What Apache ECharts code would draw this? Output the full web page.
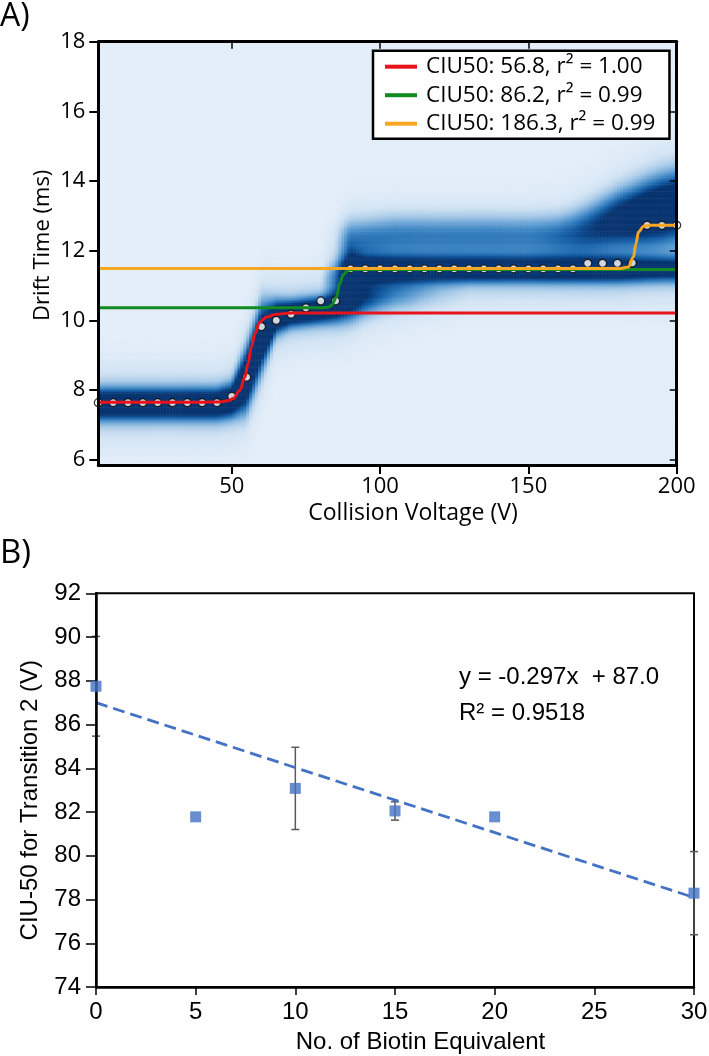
<!DOCTYPE html>
<html><head><meta charset="utf-8">
<script src="https://cdn.jsdelivr.net/npm/echarts@6/dist/echarts.min.js"></script>
<style>html,body{margin:0;padding:0;background:#fff}#chart{width:709px;height:1056px}</style>
</head><body><div id="chart"></div>
<script>
// ================= Panel A data =================
const ciuVoltages = [5,10,15,20,25,30,35,40,45,50,55,60,65,70,75,80,85,90,95,100,105,110,115,120,125,130,135,140,145,150,155,160,165,170,175,180,185,190,195,200];
const centroidDrift = [7.64,7.64,7.64,7.64,7.64,7.64,7.64,7.64,7.64,7.82,8.37,9.82,10.0,10.18,10.36,10.56,10.56,
  11.48,11.48,11.48,11.48,11.48,11.48,11.48,11.48,11.48,11.48,11.48,11.48,11.48,11.48,11.48,11.48,
  11.64,11.64,11.64,11.65,12.73,12.73,12.73];
const redFitV = [5,40,46,49,50.5,52.7,54.4,55.5,56.6,57.8,59.4,61.7,65,70,200];
const redFitT = [7.65,7.65,7.66,7.70,7.76,7.99,8.37,8.76,9.24,9.62,9.95,10.10,10.18,10.21,10.21];
const greenFitV = [5,80,82.5,83.6,85.3,86.4,87.5,89.2,91,200];
const greenFitT = [10.36,10.36,10.38,10.43,10.67,11.06,11.30,11.44,11.46,11.46];
const orangeFitV = [5,181,183.7,185.4,186.3,187.1,188.8,191,200];
const orangeFitT = [11.49,11.49,11.53,11.82,12.21,12.54,12.70,12.73,12.73];
const legendNames = ['CIU50: 56.8, r\u00B2 = 1.00','CIU50: 86.2, r\u00B2 = 0.99','CIU50: 186.3, r\u00B2 = 0.99'];
const driftTicks = [6,8,10,12,14,16,18];
const voltageTicks = [50,100,150,200];
// arrival-time distribution features read per voltage (centre ms, relative intensity, width ms)
const f1Center = [7.6,7.6,7.6,7.6,7.6,7.6,7.6,7.6,7.6,7.7,8.3,9.5,10.1,10.2,10.25,10.3,10.4,10.6,10.7,10.75,10.8,10.8,10.85,10.85,
  10.85,10.85,10.85,10.85,10.85,10.85,10.85,10.85,10.85,10.85,10.85,10.85,10.85,10.85,10.85,10.85];
const f1Amp = [1.3,1.3,1.3,1.3,1.3,1.3,1.3,1.3,1.3,1.3,1.3,1.25,1.25,1.25,1.25,1.25,1.2,1.05,0.7,0.5,0.36,0.27,0.18,0.1,0.05,
  0,0,0,0,0,0,0,0,0,0,0,0,0,0,0];
const f1Sigma = [0.28,0.28,0.28,0.28,0.28,0.28,0.28,0.28,0.28,0.3,0.55,0.6,0.3,0.24,0.24,0.24,0.28,0.36,0.36,0.34,0.34,0.34,0.34,0.34,
  0.34,0.34,0.34,0.34,0.34,0.34,0.34,0.34,0.34,0.34,0.34,0.34,0.34,0.34,0.34,0.34];
const f2Center = [11.2,11.2,11.2,11.2,11.2,11.2,11.2,11.2,11.2,11.2,11.2,11.2,11.2,11.2,11.2,11.2,11.25,
  11.47,11.47,11.47,11.47,11.47,11.47,11.47,11.47,11.47,11.47,11.47,11.47,11.47,11.47,11.47,11.47,11.47,11.47,11.47,11.47,11.47,11.47,11.47];
const f2Amp = [0,0,0,0,0,0,0,0,0,0,0,0,0,0,0,0,0.4,1.2,
  1.25,1.25,1.25,1.25,1.25,1.25,1.25,1.25,1.25,1.25,1.25,1.25,1.25,1.25,1.25,1.25,1.25,1.25,1.15,1.05,1.0,1.0];
const f2Sigma = [0.23,0.23,0.23,0.23,0.23,0.23,0.23,0.23,0.23,0.23,0.23,0.23,0.23,0.23,0.23,0.23,0.35,0.3,
  0.23,0.23,0.23,0.23,0.23,0.23,0.23,0.23,0.23,0.23,0.23,0.23,0.23,0.23,0.23,0.23,0.23,0.23,0.23,0.23,0.23,0.23];
const f3Center = [12.3,12.3,12.3,12.3,12.3,12.3,12.3,12.3,12.3,12.3,12.3,12.3,12.3,12.3,12.3,12.3,12.3,12.3,12.35,12.4,
  12.45,12.45,12.45,12.45,12.45,12.45,12.45,12.45,12.45,12.45,12.45,12.45,12.5,12.6,12.75,12.9,13.0,13.1,13.2,13.3];
const f3Amp = [0,0,0,0,0,0,0,0,0,0,0,0,0,0,0,0,0.07,0.42,0.43,0.43,0.43,0.43,0.43,0.43,0.43,0.43,0.43,0.43,0.43,0.43,
  0.45,0.5,0.57,0.68,0.82,0.98,1.12,1.25,1.32,1.32];
const f3Sigma = [0.4,0.4,0.4,0.4,0.4,0.4,0.4,0.4,0.4,0.4,0.4,0.4,0.4,0.4,0.4,0.4,0.4,0.4,0.4,0.4,
  0.4,0.4,0.4,0.4,0.4,0.4,0.4,0.4,0.4,0.4,0.4,0.4,0.43,0.46,0.48,0.5,0.52,0.55,0.57,0.57];

// ================= Panel B data =================
const biotinEquiv = [0,5,10,15,20,30];
const ciu50T2 = [87.75,81.78,83.08,82.05,81.78,78.29];
const ciu50Err = [2.28,0,1.88,0.42,0,1.9];
const trendX = [0,30];
const trendY = [87.0,78.09];

// ---------- heatmap raster built from the features ----------
function lerpAt(arr, v) {
  let idx = (v - ciuVoltages[0]) / 5;
  if (idx <= 0) return arr[0];
  if (idx >= arr.length - 1) return arr[arr.length - 1];
  const i0 = Math.floor(idx), t = idx - i0;
  return arr[i0] * (1 - t) + arr[i0 + 1] * t;
}
const hmVolt = []; for (let k = 0; k < 195; k++) hmVolt.push(5.5 + k);
const hmDrift = []; for (let k = 0; k < 243; k++) hmDrift.push(+(5.875 + 0.05 * k).toFixed(3));
const hmData = [];
hmVolt.forEach((v, i) => {
  const feats = [
    [lerpAt(f1Center, v), lerpAt(f1Amp, v), lerpAt(f1Sigma, v)],
    [lerpAt(f2Center, v), lerpAt(f2Amp, v), lerpAt(f2Sigma, v)],
    [lerpAt(f3Center, v), lerpAt(f3Amp, v), lerpAt(f3Sigma, v)]
  ];
  hmDrift.forEach((t, j) => {
    let s = 0.03;
    feats.forEach(([c, a, sg]) => {
      const d = (t - c) / sg, dh = (t - c) / (sg + 0.45);
      s += a * Math.exp(-0.5 * d * d) + 0.2 * a * Math.exp(-0.5 * dh * dh);
    });
    hmData.push([i, j, Math.min(1, s)]);
  });
});

const FA = 'Open Sans';
const FB = 'Liberation Sans';
const HM_COLORS = ['#e9f1fa','#d3e4f4','#a8cae8','#72a9d8','#4189c6','#1f69ae','#0c4c91','#083470'];
const chart = echarts.init(document.getElementById('chart'), null, {renderer: 'canvas'});
const gridA0 = {left: 98.3, top: 41.7, right: 32.3, bottom: 591, outerBoundsMode: 'none',
  show: true, borderWidth: 0, backgroundColor: '#e8f0fa'};
const gridA1 = {left: 98.3, top: 41.7, right: 32.3, bottom: 591, outerBoundsMode: 'none'};
const gridB = {left: 96, top: 593.3, right: 15, bottom: 69, outerBoundsMode: 'none',
  show: true, borderColor: '#000', borderWidth: 2, backgroundColor: 'transparent'};

const axLine = w => ({show: true, onZero: false, lineStyle: {color: '#000', width: w}});

const option = {
  animation: false,
  textStyle: {fontFamily: FA, color: '#000'},
  grid: [gridA0, gridA1, gridB],
  visualMap: {
    type: 'continuous', show: false, min: 0, max: 1, dimension: 2, seriesIndex: 0,
    inRange: {color: HM_COLORS}
  },
  legend: {
    orient: 'vertical', left: 373, top: 50.7,
    data: legendNames, selectedMode: false,
    icon: 'rect', itemWidth: 32, itemHeight: 4, itemGap: 4.5,
    padding: [4, 14, 3, 12],
    borderColor: '#000', borderWidth: 2.5, backgroundColor: '#fff',
    textStyle: {fontFamily: FA, fontSize: 22.5, color: '#000', lineHeight: 24, padding: [0, 0, 0, 4]}
  },
  xAxis: [
    {type: 'category', gridIndex: 0, data: hmVolt, show: false},
    {type: 'value', gridIndex: 1, position: 'bottom', min: 5, max: 200, z: 5,
      axisLine: axLine(3),
      axisTick: {show: true, length: 9, lineStyle: {color: '#000', width: 2}, customValues: voltageTicks},
      axisLabel: {customValues: voltageTicks, fontFamily: FA, fontSize: 22, color: '#000', margin: 11},
      splitLine: {show: false},
      name: 'Collision Voltage (V)', nameLocation: 'middle', nameGap: 37, nameMoveOverlap: false,
      nameTextStyle: {fontFamily: FA, fontSize: 23, color: '#000', padding: [0, 0, 0, 51]}},
    {type: 'value', gridIndex: 1, position: 'top', min: 5, max: 200, z: 5,
      axisLine: axLine(3),
      axisTick: {show: true, inside: true, length: 7, lineStyle: {color: '#000', width: 1.5}, customValues: voltageTicks},
      axisLabel: {show: false}, splitLine: {show: false}},
    {type: 'value', gridIndex: 2, position: 'bottom', min: 0, max: 30, interval: 5, z: 5,
      axisLine: axLine(2.5),
      axisTick: {show: true, length: 8, lineStyle: {color: '#000', width: 1.5}},
      axisLabel: {fontFamily: FB, fontSize: 24, color: '#000', margin: 13},
      splitLine: {show: false},
      name: 'No. of Biotin Equivalent', nameLocation: 'middle', nameGap: 43, nameMoveOverlap: false,
      nameTextStyle: {fontFamily: FB, fontSize: 24, color: '#000', padding: [0, 0, 0, 51]}}
  ],
  yAxis: [
    {type: 'category', gridIndex: 0, data: hmDrift, show: false},
    {type: 'value', gridIndex: 1, position: 'left', min: 5.85, max: 18, z: 5,
      axisLine: axLine(3),
      axisTick: {show: true, length: 9, lineStyle: {color: '#000', width: 2}, customValues: driftTicks},
      axisLabel: {customValues: driftTicks, fontFamily: FA, fontSize: 22, color: '#000', margin: 13},
      splitLine: {show: false},
      name: 'Drift Time (ms)', nameLocation: 'middle', nameGap: 45, nameMoveOverlap: false,
      nameTextStyle: {fontFamily: FA, fontSize: 22, color: '#000', padding: [0, 0, 0, 16]}},
    {type: 'value', gridIndex: 1, position: 'right', min: 5.85, max: 18, z: 5,
      axisLine: axLine(3),
      axisTick: {show: true, inside: true, length: 7, lineStyle: {color: '#000', width: 1.5}, customValues: driftTicks},
      axisLabel: {show: false}, splitLine: {show: false}},
    {type: 'value', gridIndex: 2, position: 'left', min: 74, max: 92, interval: 2, z: 5,
      axisLine: axLine(2.5),
      axisTick: {show: true, length: 10, lineStyle: {color: '#000', width: 1.5}},
      axisLabel: {fontFamily: FB, fontSize: 24, color: '#000', margin: 15},
      splitLine: {show: false},
      name: 'CIU-50 for Transition 2 (V)', nameLocation: 'middle', nameGap: 54, nameMoveOverlap: false,
      nameTextStyle: {fontFamily: FB, fontSize: 24, color: '#000', padding: [0, 20, 0, 0]}}
  ],
  graphic: [
    {type: 'text', left: 0, top: 1, style: {text: 'A)', font: '32px "Open Sans"', fill: '#000'}},
    {type: 'text', left: 0, top: 537, style: {text: 'B)', font: '33px "Open Sans"', fill: '#000'}},
    {type: 'text', left: 459, top: 659, style: {text: 'y = -0.297x  + 87.0\nR\u00B2 = 0.9518', font: '24px "Liberation Sans"', lineHeight: 36, fill: '#000'}}
  ],
  series: [
    {type: 'heatmap', xAxisIndex: 0, yAxisIndex: 0, data: hmData, progressive: 0, silent: true, z: 1},
    {type: 'scatter', name: 'centroids', xAxisIndex: 1, yAxisIndex: 1,
      data: ciuVoltages.map((v, i) => [v, centroidDrift[i]]),
      symbol: 'circle', symbolSize: 8, itemStyle: {color: '#fff', borderColor: '#000', borderWidth: 1.2}, z: 3},
    {type: 'line', name: legendNames[0], xAxisIndex: 1, yAxisIndex: 1, color: '#e8141c',
      data: redFitV.map((v, i) => [v, redFitT[i]]), smooth: 0.35, smoothMonotone: 'x', showSymbol: false, symbol: 'none',
      lineStyle: {color: '#e8141c', width: 3}, z: 4},
    {type: 'line', name: legendNames[1], xAxisIndex: 1, yAxisIndex: 1, color: '#128a22',
      data: greenFitV.map((v, i) => [v, greenFitT[i]]), smooth: 0.35, smoothMonotone: 'x', showSymbol: false, symbol: 'none',
      lineStyle: {color: '#128a22', width: 3}, z: 4},
    {type: 'line', name: legendNames[2], xAxisIndex: 1, yAxisIndex: 1, color: '#f5a623',
      data: orangeFitV.map((v, i) => [v, orangeFitT[i]]), smooth: 0.35, smoothMonotone: 'x', showSymbol: false, symbol: 'none',
      lineStyle: {color: '#f5a623', width: 3}, z: 4},
    // Panel B
    {type: 'custom', xAxisIndex: 3, yAxisIndex: 3, z: 3,
      data: biotinEquiv.map((x, i) => [x, ciu50T2[i] - ciu50Err[i], ciu50T2[i] + ciu50Err[i]]).filter((d, i) => ciu50Err[i] > 0),
      renderItem: function (params, api) {
        const x = api.value(0), lo = api.value(1), hi = api.value(2);
        const pLo = api.coord([x, lo]), pHi = api.coord([x, hi]);
        const hw = 4, st = {stroke: '#5a5a5a', lineWidth: 1.5};
        return {type: 'group', children: [
          {type: 'line', shape: {x1: pLo[0], y1: pLo[1], x2: pHi[0], y2: pHi[1]}, style: st},
          {type: 'line', shape: {x1: pLo[0] - hw, y1: pLo[1], x2: pLo[0] + hw, y2: pLo[1]}, style: st},
          {type: 'line', shape: {x1: pHi[0] - hw, y1: pHi[1], x2: pHi[0] + hw, y2: pHi[1]}, style: st}
        ]};
      }},
    {type: 'line', name: 'trend', xAxisIndex: 3, yAxisIndex: 3, z: 4,
      data: trendX.map((x, i) => [x, trendY[i]]), symbol: 'none',
      lineStyle: {color: '#4472c4', width: 2.8, type: [12, 6]}},
    {type: 'scatter', name: 'CIU-50', xAxisIndex: 3, yAxisIndex: 3, z: 5,
      data: biotinEquiv.map((x, i) => [x, ciu50T2[i]]),
      symbol: 'rect', symbolSize: 11, itemStyle: {color: '#4472c4'}}
  ]
};
chart.setOption(option);
</script>
</body></html>
